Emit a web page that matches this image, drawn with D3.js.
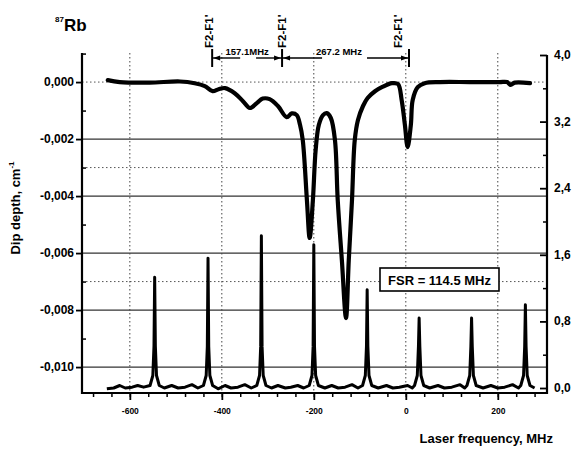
<!DOCTYPE html>
<html><head><meta charset="utf-8">
<script src="https://cdn.jsdelivr.net/npm/d3@7"></script>
<style>
body{margin:0;background:#fff;}
text{font-family:"Liberation Sans",Arial,sans-serif;font-weight:bold;fill:#000;}
</style></head>
<body><svg id="c" width="572" height="450"></svg>
<script>
// ---- data ----
const upperFreq = [-648,-622,-557,-491,-459,-437,-420,-407,-393,-372,-354,-339,-324,-311,-296,-278,-259,-248,-237,-230,-224,-215,-209,-202,-196,-189,-180,-172,-163,-154,-148,-139,-130,-124,-117,-111,-104,-93,-83,-67,-52,-30,-17,-9,-2,4,11,15,26,41,74,139,204,220,228,237,270];
const upperDepth = [0.00007,0,-0.00002,0.00002,-0.00004,-0.00014,-0.00032,-0.00025,-0.00021,-0.00039,-0.00067,-0.00091,-0.00074,-0.00058,-0.0006,-0.00084,-0.00123,-0.0011,-0.00116,-0.0015,-0.00204,-0.00414,-0.00547,-0.00414,-0.00239,-0.0015,-0.00116,-0.00109,-0.00126,-0.00204,-0.00414,-0.00625,-0.00828,-0.00625,-0.00414,-0.00204,-0.00133,-0.00084,-0.00056,-0.00032,-0.00018,-0.00004,-0.00007,-0.00063,-0.0015,-0.00228,-0.0015,-0.00063,-0.00018,-0.00004,0,0,0,0,-0.0001,-0.00002,-0.00004];

const lowerFreq = [-650,-635,-622,-610,-595,-583,-570,-556,-550,-547.5,-546,-544.5,-542,-536,-525,-509,-495,-480,-465,-452,-440,-434,-431.5,-430,-428.5,-426,-420,-408,-393,-380,-365,-350,-336,-324,-318,-315.5,-314,-312.5,-310,-304,-292,-278,-262,-250,-235,-222,-210,-204,-201.5,-200,-198.5,-196,-190,-176,-161,-147,-132,-117,-104,-94,-88,-85.5,-84,-82.5,-80,-74,-60,-42,-28,-14,4,14,19,25,27.5,29,30.5,33,39,52,70,84,100,118,128,133,139,141.5,143,144.5,147,153,168,185,200,215,232,245,250,256,258.5,260,261.5,264,270,280];
const lowerSignal = [-0.01,0,0.03,0,0.01,0.03,0.01,0.03,0.15,0.5,1.33,0.5,0.15,0.03,0,0.03,0,0.01,0.04,0,0.03,0.15,0.5,1.56,0.5,0.15,0.03,-0.01,0.03,0,0.01,0.04,0,0.03,0.15,0.5,1.83,0.5,0.15,0.03,0,0.03,0,0.01,0.03,0,0.03,0.15,0.5,1.72,0.5,0.15,0.03,0,0.03,0,0.01,0.04,0,0.03,0.15,0.5,1.18,0.5,0.15,0.03,0,0.03,0,0.01,0.03,0,0.03,0.15,0.5,0.84,0.5,0.15,0.03,0,0.03,0,0.01,0.04,0,0.03,0.15,0.5,0.84,0.5,0.15,0.03,0,0.03,0,0.01,0.04,0,0.03,0.15,0.5,1.0,0.5,0.15,0.03,0];

const xMajorTicks = [-600,-400,-200,0,200];
const xTickLabels = ["-600","-400","-200","0","200"];
const leftMajorTicks = [0,-0.002,-0.004,-0.006,-0.008,-0.010];
const leftTickLabels = ["0,000","-0,002","-0,004","-0,006","-0,008","-0,010"];
const rightMajorTicks = [0,0.8,1.6,2.4,3.2,4.0];
const rightTickLabels = ["0,0","0,8","1,6","2,4","3,2","4,0"];
const markerFreqs = [-421,-269,7];
const markerLabel = "F2-F1'";
const spacingLabels = ["157.1MHz","267.2 MHz"];
const fsrLabel = "FSR = 114.5 MHz";

// ---- scales ----
const svg = d3.select("#c");
const L=82,R=547,T=53,B=393;
const x = d3.scaleLinear().domain([-704,307]).range([L,R]);
const yL = d3.scaleLinear().domain([-0.01091,0.00102]).range([B,T]);
const yR = d3.scaleLinear().domain([-0.06,4.0]).range([B,55]);

// grid
const g = svg.append("g");
[-0.002,-0.004,-0.006,-0.008,-0.010].forEach(v=>{
  g.append("line").attr("x1",L).attr("x2",R).attr("y1",yL(v)).attr("y2",yL(v))
   .attr("stroke","#333").attr("stroke-width",1.3);
});
[0,-0.003,-0.007].forEach(v=>{
  g.append("line").attr("x1",L).attr("x2",R).attr("y1",yL(v)).attr("y2",yL(v))
   .attr("stroke","#555").attr("stroke-width",1).attr("stroke-dasharray","1.5,2.5");
});
xMajorTicks.forEach(v=>{
  g.append("line").attr("x1",x(v)).attr("x2",x(v)).attr("y1",T).attr("y2",B)
   .attr("stroke","#444").attr("stroke-width",1).attr("stroke-dasharray","1.5,2.5");
});

// axes
const xMinor = d3.range(-680,300,40);
svg.append("g").attr("transform",`translate(0,${B})`)
  .call(d3.axisBottom(x).tickValues(xMinor).tickSize(4).tickFormat(""))
  .call(a=>a.select(".domain").remove())
  .call(a=>a.selectAll("line").attr("stroke-width",1.5));
svg.append("g").attr("transform",`translate(0,${B})`)
  .call(d3.axisBottom(x).tickValues(xMajorTicks).tickSize(7).tickPadding(8)
        .tickFormat((d,i)=>xTickLabels[i]))
  .call(a=>a.select(".domain").remove())
  .call(a=>a.selectAll("line").attr("stroke-width",1.8))
  .call(a=>a.selectAll("text").attr("font-size","8.5px").attr("font-family","Liberation Sans, Arial").attr("font-weight","bold"));

const leftMinor = [0.001,-0.001,-0.003,-0.005,-0.007,-0.009];
svg.append("g").attr("transform",`translate(${L},0)`)
  .call(d3.axisRight(yL).tickValues(leftMinor).tickSize(4).tickFormat(""))
  .call(a=>a.select(".domain").remove())
  .call(a=>a.selectAll("line").attr("stroke-width",1.5));
svg.append("g").attr("transform",`translate(${L},0)`)
  .call(d3.axisLeft(yL).tickValues(leftMajorTicks).tickSize(6).tickPadding(2)
        .tickFormat((d,i)=>leftTickLabels[i]))
  .call(a=>a.select(".domain").remove())
  .call(a=>a.selectAll("line").attr("stroke-width",1.8))
  .call(a=>a.selectAll("text").attr("font-size","12px").attr("font-family","Liberation Sans, Arial").attr("font-weight","bold"));

const rightMinor = [0.4,1.2,2.0,2.8,3.6];
svg.append("g").attr("transform",`translate(${R},0)`)
  .call(d3.axisLeft(yR).tickValues(rightMinor).tickSize(4).tickFormat(""))
  .call(a=>a.select(".domain").remove())
  .call(a=>a.selectAll("line").attr("stroke-width",1.5));
svg.append("g").attr("transform",`translate(${R},0)`)
  .call(d3.axisLeft(yR).tickValues(rightMajorTicks).tickSize(7).tickFormat(""))
  .call(a=>a.select(".domain").remove())
  .call(a=>a.selectAll("line").attr("stroke-width",1.8));
rightMajorTicks.forEach((v,i)=>{
  svg.append("text").attr("x",R+7).attr("y",yR(v)+4).attr("font-size","12px").text(rightTickLabels[i]);
});

// axis lines
svg.append("line").attr("x1",L).attr("x2",L).attr("y1",T).attr("y2",B+1).attr("stroke","#000").attr("stroke-width",2.2);
svg.append("line").attr("x1",R).attr("x2",R).attr("y1",55).attr("y2",B+1).attr("stroke","#000").attr("stroke-width",2.2);
svg.append("line").attr("x1",L-1).attr("x2",R+1).attr("y1",B).attr("y2",B).attr("stroke","#000").attr("stroke-width",2.2);

// curves
const lowerData = lowerFreq.map((f,i)=>[f,lowerSignal[i]]);
svg.append("path").datum(lowerData)
  .attr("d",d3.line().x(d=>x(d[0])).y(d=>yR(d[1])))
  .attr("fill","none").attr("stroke","#000").attr("stroke-width",3).attr("stroke-linejoin","round");
const upperData = upperFreq.map((f,i)=>[f,upperDepth[i]]);
svg.append("path").datum(upperData)
  .attr("d",d3.line().x(d=>x(d[0])).y(d=>yL(d[1])).curve(d3.curveCatmullRom.alpha(0.5)))
  .attr("fill","none").attr("stroke","#000").attr("stroke-width",4.2).attr("stroke-linejoin","round").attr("stroke-linecap","round");

// FSR box
const fb = svg.append("g");
fb.append("rect").attr("x",380).attr("y",268).attr("width",119).attr("height",23)
  .attr("fill","#fff").attr("stroke","#000").attr("stroke-width",1.6);
fb.append("text").attr("x",439.5).attr("y",284.5).attr("text-anchor","middle").attr("font-size","13px").text(fsrLabel);

// markers
const mx = markerFreqs.map(f=>x(f));
const labelOffsets = [-3,0,-11];
mx.forEach((px,i)=>{
  svg.append("line").attr("x1",px).attr("x2",px).attr("y1",49).attr("y2",67).attr("stroke","#000").attr("stroke-width",2);
  svg.append("text").attr("transform",`translate(${px+labelOffsets[i]+4},48) rotate(-90)`)
     .attr("font-size","11.5px").text(markerLabel);
});
const ay = 58;
const segs = [[mx[0],mx[0]+28],[mx[1]-26,mx[1]],[mx[1],mx[1]+40],[mx[2]-42,mx[2]]];
segs.forEach(s=>svg.append("line").attr("x1",s[0]).attr("x2",s[1]).attr("y1",ay).attr("y2",ay).attr("stroke","#000").attr("stroke-width",1.4));
function arrow(px,dir){
  svg.append("path").attr("d",`M${px},${ay} L${px+dir*7},${ay-2.5} L${px+dir*7},${ay+2.5} Z`).attr("fill","#000");
}
arrow(mx[0]+1,1); arrow(mx[1]-1,-1); arrow(mx[1]+1,1); arrow(mx[2]-1,-1);
svg.append("text").attr("x",(mx[0]+mx[1])/2).attr("y",55).attr("text-anchor","middle").attr("font-size","9.5px").text(spacingLabels[0]);
svg.append("text").attr("x",339).attr("y",55).attr("text-anchor","middle").attr("font-size","9.5px").text(spacingLabels[1]);

// titles
const rb = svg.append("text").attr("x",55).attr("y",31);
rb.append("tspan").attr("font-size","8px").attr("dy","-9").text("87");
rb.append("tspan").attr("font-size","17px").attr("dy","9").text("Rb");

const yt = svg.append("text").attr("transform","translate(20,208) rotate(-90)").attr("text-anchor","middle").attr("font-size","13px");
yt.append("tspan").text("Dip depth, cm");
yt.append("tspan").attr("font-size","8px").attr("dy","-6").text("-1");

svg.append("text").attr("x",553).attr("y",443).attr("text-anchor","end").attr("font-size","13px").text("Laser frequency, MHz");
</script></body></html>
